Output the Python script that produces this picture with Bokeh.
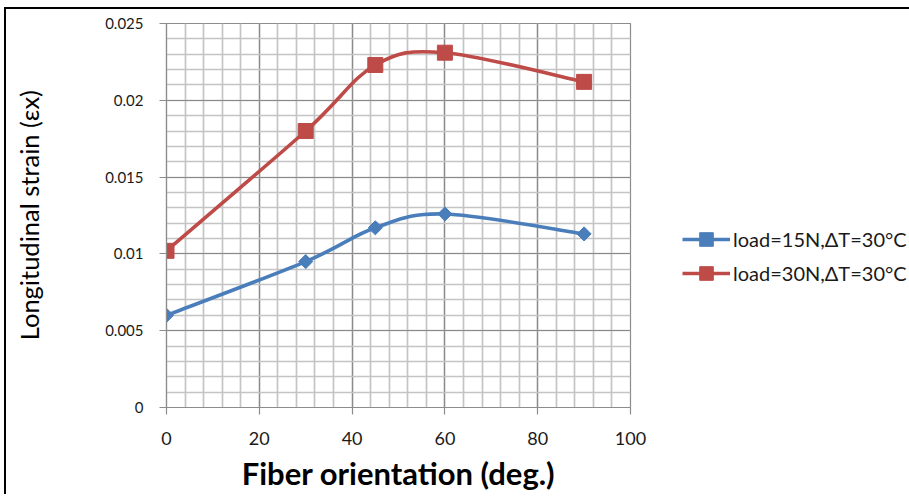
import numpy as np
from bokeh.plotting import figure
from bokeh.models import Range1d, FixedTicker, Legend, LegendItem, ColumnDataSource
from bokeh.embed import file_html
from bokeh.resources import INLINE

# ---- data ----
fiber_orientation = [0, 30, 45, 60, 90]
strain_15N = [0.0060, 0.0095, 0.0117, 0.0126, 0.0113]
strain_30N = [0.0102, 0.0180, 0.0223, 0.0231, 0.0212]
series_labels = ["load=15N,ΔT=30°C", "load=30N,ΔT=30°C"]
x_ticks = [0, 20, 40, 60, 80, 100]
x_tick_labels = ["0", "20", "40", "60", "80", "100"]
y_ticks = [0, 0.005, 0.01, 0.015, 0.02, 0.025]
y_tick_labels = ["0", "0.005", "0.01", "0.015", "0.02", "0.025"]
x_title = "Fiber orientation (deg.)"
y_title = "Longitudinal strain (εx)"

BLUE = "#4A7EBB"
RED = "#BE4B48"
FONT = "Lato"


def bezier_source(xs, ys, t=1.0 / 6.0):
    """Excel-style smoothed line: cubic Bezier segments between data points."""
    n = len(xs)
    d = dict(x0=[], y0=[], x1=[], y1=[], cx0=[], cy0=[], cx1=[], cy1=[])
    for i in range(n - 1):
        im = max(i - 1, 0)
        ip = min(i + 2, n - 1)
        d["x0"].append(xs[i]); d["y0"].append(ys[i])
        d["x1"].append(xs[i + 1]); d["y1"].append(ys[i + 1])
        d["cx0"].append(xs[i] + (xs[i + 1] - xs[im]) * t)
        d["cy0"].append(ys[i] + (ys[i + 1] - ys[im]) * t)
        d["cx1"].append(xs[i + 1] - (xs[ip] - xs[i]) * t)
        d["cy1"].append(ys[i + 1] - (ys[ip] - ys[i]) * t)
    return ColumnDataSource(d)


p = figure(frame_width=464, frame_height=384, output_backend="svg", toolbar_location=None,
           x_range=Range1d(0, 100), y_range=Range1d(0, 0.025),
           min_border_left=160, min_border_right=279, min_border_top=14,
           min_border_bottom=76)
p.styles = {"margin-top": "7px", "margin-left": "4px",
            "border-top": "2px solid #000", "border-left": "2px solid #000"}
p.background_fill_color = "white"
p.border_fill_color = "white"
p.outline_line_color = "#8c8c8c"
p.outline_line_width = 1.2

# ticks & grid
p.xaxis.ticker = FixedTicker(ticks=x_ticks, minor_ticks=list(np.arange(0, 101, 4)))
p.yaxis.ticker = FixedTicker(ticks=y_ticks, minor_ticks=list(np.round(np.arange(0, 0.0251, 0.001), 4)))
p.xaxis.major_label_overrides = {t: l for t, l in zip(x_ticks, x_tick_labels)}
p.yaxis.major_label_overrides = {t: l for t, l in zip(y_ticks, y_tick_labels)}

for g in (p.xgrid, p.ygrid):
    g.grid_line_color = "#8a8a8a"
    g.grid_line_width = 1.2
    g.minor_grid_line_color = "#c4c4c4"
    g.minor_grid_line_width = 1.7

for ax in (p.xaxis, p.yaxis):
    ax.axis_line_color = "#8c8c8c"
    ax.axis_line_width = 1.2
    ax.major_tick_line_color = "#8c8c8c"
    ax.major_tick_line_width = 1.2
    ax.major_tick_out = 7
    ax.major_tick_in = 0
    ax.minor_tick_out = 0
    ax.minor_tick_in = 0
    ax.major_label_text_font = FONT
    ax.major_label_text_color = "#1a1a1a"
    ax.axis_label_text_font = FONT
    ax.axis_label_text_color = "#000000"

p.xaxis.major_label_text_font_size = "18px"
p.yaxis.major_label_text_font_size = "15px"

p.xaxis.axis_label = x_title
p.xaxis.axis_label_text_font_size = "31px"
p.xaxis.axis_label_text_font_style = "bold"
p.xaxis.major_label_standoff = 17
p.xaxis.axis_label_standoff = 6

p.yaxis.axis_label = y_title
p.yaxis.axis_label_text_font_size = "25.5px"
p.yaxis.axis_label_text_font_style = "normal"
p.yaxis.major_label_standoff = 16
p.yaxis.axis_label_standoff = 58

# series
items = []
for ys, color, marker, size, angle, label in [
    (strain_15N, BLUE, "square", 10, np.pi / 4, series_labels[0]),
    (strain_30N, RED, "square", 15, 0.0, series_labels[1]),
]:
    src = bezier_source(fiber_orientation, ys)
    r_line = p.bezier(x0="x0", y0="y0", x1="x1", y1="y1", cx0="cx0", cy0="cy0",
                      cx1="cx1", cy1="cy1", source=src, line_color=color, line_width=3.6)
    r_pts = p.scatter(fiber_orientation, ys, marker=marker, size=size, angle=angle,
                      fill_color=color, line_color=color)
    items.append(LegendItem(label=label, renderers=[r_line, r_pts]))

legend = Legend(items=items, location=(52, 117), padding=0, margin=0, spacing=-4,
                glyph_width=48, glyph_height=34, label_standoff=3,
                label_text_font=FONT, label_text_font_size="20px",
                label_text_color="#1a1a1a", border_line_color=None,
                background_fill_alpha=0)
p.add_layout(legend, "right")

open("out.html", "w").write(file_html(p, INLINE))
